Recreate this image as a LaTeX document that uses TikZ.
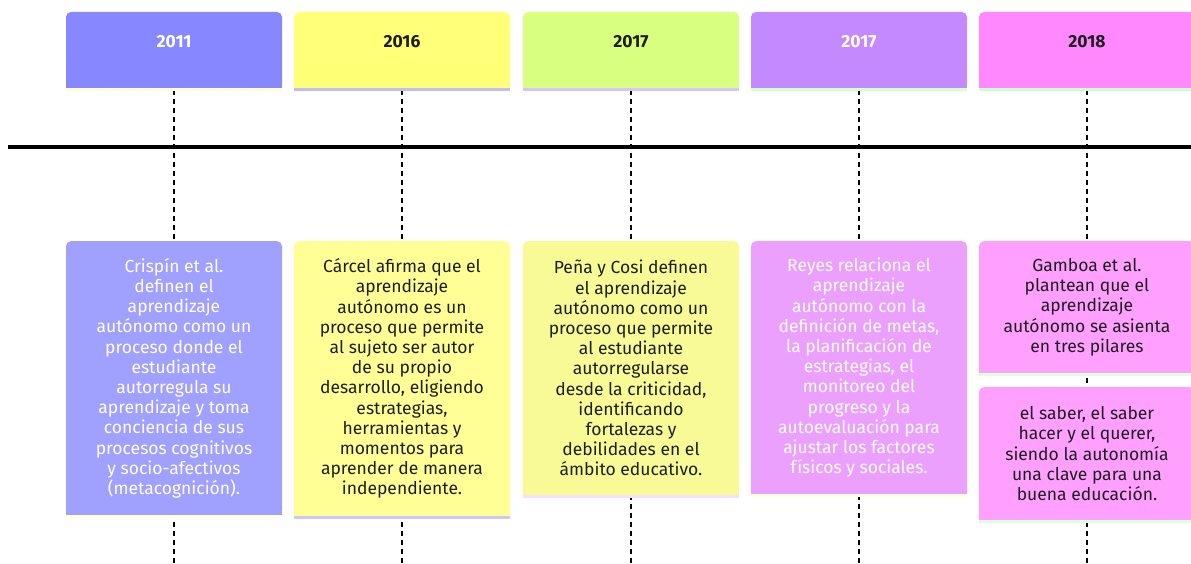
\documentclass[tikz,border=0pt]{standalone}
\usepackage{fontspec}
\setmainfont{Fira Sans}
\definecolor{ya}{RGB}{135,135,255}
\definecolor{yb}{RGB}{255,255,120}
\definecolor{yc}{RGB}{216,255,128}
\definecolor{yd}{RGB}{196,136,255}
\definecolor{ye}{RGB}{255,136,255}
\definecolor{ea}{RGB}{160,160,255}
\definecolor{eb}{RGB}{255,255,150}
\definecolor{ec}{RGB}{248,250,150}
\definecolor{ed}{RGB}{234,160,252}
\definecolor{ee}{RGB}{255,160,255}
\definecolor{ua}{RGB}{255,255,205}
\definecolor{ub}{RGB}{190,190,255}
\definecolor{uc}{RGB}{215,195,255}
\definecolor{ud}{RGB}{215,255,205}
\definecolor{ue}{RGB}{205,255,205}
\definecolor{va}{RGB}{255,255,220}
\definecolor{vb}{RGB}{200,200,255}
\definecolor{vc}{RGB}{245,222,255}
\definecolor{vd}{RGB}{255,255,220}
\definecolor{ve}{RGB}{220,255,220}
\definecolor{dark}{RGB}{30,30,30}
\tikzset{
  ybox/.style={rectangle, rounded corners=5pt, minimum width=216pt, minimum height=76pt, inner sep=0pt, draw=none},
  ebox/.style={rectangle, rounded corners=5pt, minimum width=216pt, inner sep=0pt, anchor=north, draw=none},
  ytext/.style={font=\fontsize{17.5}{20}\selectfont\bfseries},
  etext/.style={align=center, font=\fontsize{17.5}{20.2}\selectfont},
  vline/.style={line width=2.5pt, dash pattern=on 5pt off 4pt, black},
}
\begin{document}
\begin{tikzpicture}[x=1pt,y=-1pt]
\useasboundingbox (0,0) rectangle (1191,564);
% positions
\coordinate (ta) at (174,90); \coordinate (ba) at (174,564);
\coordinate (tb) at (402,90); \coordinate (bb) at (402,564);
\coordinate (tc) at (631,90); \coordinate (bc) at (631,564);
\coordinate (td) at (859,90); \coordinate (bd) at (859,564);
\coordinate (te) at (1087,90); \coordinate (be) at (1087,564);
\draw[vline] (ta) -- (ba);
\draw[vline] (tb) -- (bb);
\draw[vline] (tc) -- (bc);
\draw[vline] (td) -- (bd);
\draw[vline] (te) -- (be);
% axis
\coordinate (axl) at (8,147); \coordinate (axr) at (1191,147);
\draw[line width=4pt, black] (axl) -- (axr);
% year boxes
\foreach \n/\x/\c/\u in {a/174/ya/ua, b/402/yb/ub, c/631/yc/uc, d/859/yd/ud, e/1087/ye/ue}{
  \node[ybox, fill=\c] (y\n) at (\x,50) {};
  \fill[\c] (y\n.south west) rectangle ([yshift=8pt]y\n.south east);
  \fill[\u] (y\n.south west) rectangle ([yshift=-2.5pt]y\n.south east);
}
\node[ytext, text=white] (yla) at (174,42) {2011};
\node[ytext, text=dark] (ylb) at (402,42) {2016};
\node[ytext, text=dark] (ylc) at (631,42) {2017};
\node[ytext, text=white] (yld) at (859,42) {2017};
\node[ytext, text=dark] (yle) at (1087,42) {2018};
% event boxes
\node[ebox, fill=ea, minimum height=274pt] (ea) at (174,241) {};
\node[ebox, fill=eb, minimum height=275pt] (eb) at (402,241) {};
\node[ebox, fill=ec, minimum height=254pt] (ec) at (631,241) {};
\node[ebox, fill=ed, minimum height=253pt] (ed) at (859,241) {};
\node[ebox, fill=ee, minimum height=132pt] (ee) at (1087,241) {};
\node[ebox, fill=ee, minimum height=133pt] (ef) at (1087,387) {};
\foreach \n/\c/\u in {a/ea/va, b/eb/vb, c/ec/vc, d/ed/vd, e/ee/ve, f/ee/ve}{
  \fill[\c] (e\n.south west) rectangle ([yshift=8pt]e\n.south east);
  \fill[\u] (e\n.south west) rectangle ([yshift=-2.5pt]e\n.south east);
}
\node[etext, text=white] (ta1) at (ea.center) {Crispín et al.\\definen el\\aprendizaje\\autónomo como un\\proceso donde el\\estudiante\\autorregula su\\aprendizaje y toma\\conciencia de sus\\procesos cognitivos\\y socio-afectivos\\(metacognición).};
\node[etext, text=dark] (tb1) at (eb.center) {Cárcel afirma que el\\aprendizaje\\autónomo es un\\proceso que permite\\al sujeto ser autor\\de su propio\\desarrollo, eligiendo\\estrategias,\\herramientas y\\momentos para\\aprender de manera\\independiente.};
\node[etext, text=dark] (tc1) at (ec.center) {Peña y Cosi definen\\el aprendizaje\\autónomo como un\\proceso que permite\\al estudiante\\autorregularse\\desde la criticidad,\\identificando\\fortalezas y\\debilidades en el\\ámbito educativo.};
\node[etext, text=white] (td1) at (ed.center) {Reyes relaciona el\\aprendizaje\\autónomo con la\\definición de metas,\\la planificación de\\estrategias, el\\monitoreo del\\progreso y la\\autoevaluación para\\ajustar los factores\\físicos y sociales.};
\node[etext, text=dark] (te1) at (ee.center) {Gamboa et al.\\plantean que el\\aprendizaje\\autónomo se asienta\\en tres pilares};
\node[etext, text=dark] (tf1) at (ef.center) {el saber, el saber\\hacer y el querer,\\siendo la autonomía\\una clave para una\\buena educación.};
\end{tikzpicture}
\end{document}
